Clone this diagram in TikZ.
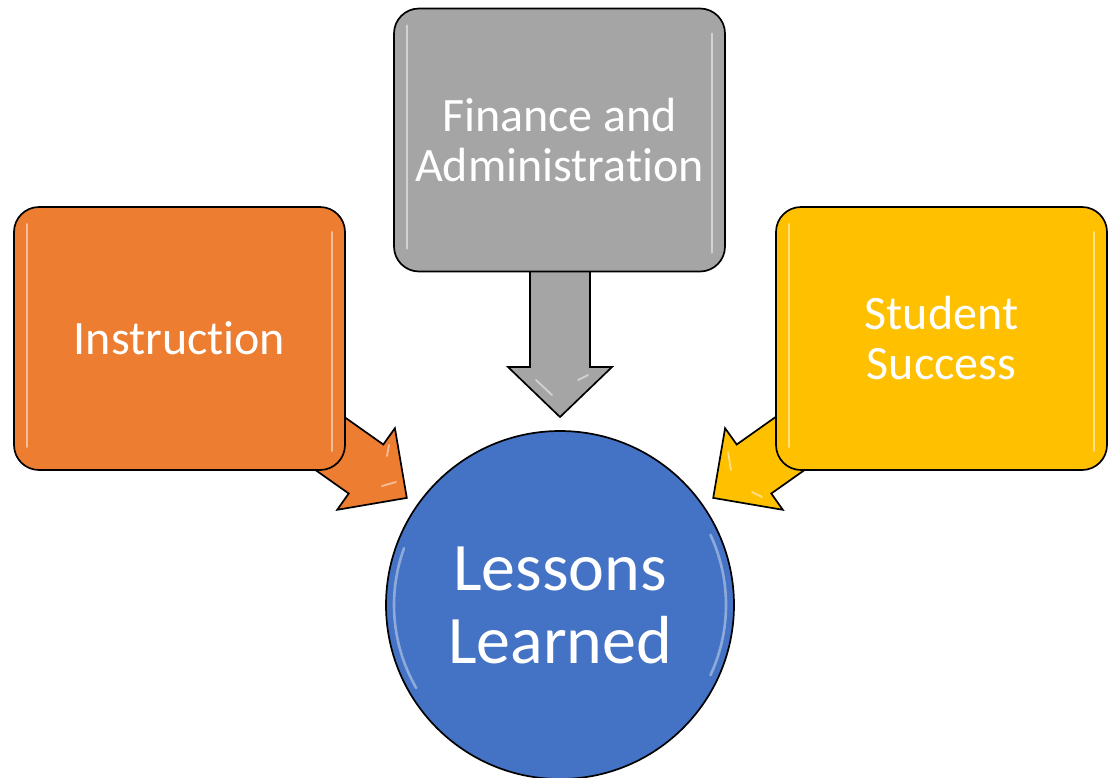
\documentclass[tikz,border=0pt]{standalone}
\usepackage{fontspec}
\setmainfont[RawFeature=-liga]{Carlito}
\definecolor{orng}{HTML}{ED7D31}
\definecolor{gry}{HTML}{A5A5A5}
\definecolor{ylw}{HTML}{FFC000}
\definecolor{blu}{HTML}{4472C4}
\begin{document}
\begin{tikzpicture}[x=1pt,y=-1pt,
  box/.style={draw=black, line width=1.7pt, rounded corners=25pt, minimum width=331pt, minimum height=263pt, inner sep=0pt, text=white, align=center, font=\fontsize{48}{50}\selectfont},
  hub/.style={circle, draw=black, line width=1.7pt, fill=blu, minimum size=348pt, inner sep=0pt, text=white, align=center, font=\fontsize{68}{73}\selectfont},
  blockarrow/.style={draw=black, line width=1.7pt, line join=miter},
  gloss/.style={white, opacity=0.5, line width=2.6pt, line cap=round}]
\useasboundingbox (0,0) rectangle (1116,777);
% anchor coordinates for the block arrows
\coordinate (t1) at (406.8,497.9);
\coordinate (t2) at (560,417);
\coordinate (t3) at (713.2,497.9);
% block arrows (drawn beneath the boxes)
\draw[blockarrow, fill=orng] (285.4,375.3) -- (383.3,444.5) -- (394.9,428.2) -- (t1) -- (337.2,509.8) -- (348.7,493.5) -- (250.8,424.3) -- cycle;
\draw[blockarrow, fill=ylw] (834.6,375.3) -- (736.7,444.5) -- (725.1,428.2) -- (t3) -- (782.8,509.8) -- (771.3,493.5) -- (869.2,424.3) -- cycle;
\draw[blockarrow, fill=gry] (530,250) -- (530,367) -- (508,367) -- (t2) -- (612,367) -- (590,367) -- (590,250) -- cycle;
% arrow glosses
\draw[gloss, line width=1.8pt] (382,486) -- (396,482);
\draw[gloss, line width=1.8pt] (387,456) -- (389,445);
\draw[gloss, line width=1.8pt] (728,452) -- (731,470);
\draw[gloss, line width=1.8pt] (752,492) -- (762,497);
\draw[gloss, line width=1.8pt] (536,380) -- (552,395);
\draw[gloss, line width=1.8pt] (578,380) -- (588,375);
% boxes
\node[box, fill=orng] (ins) at (179.5,338.5) {Instruction};
\node[box, fill=gry] (fin) at (559.5,140) {Finance and\\Administration};
\node[box, fill=ylw] (stu) at (941.5,338.5) {Student\\Success};
% box glosses
\foreach \n in {ins,fin,stu}{
  \draw[gloss] ([xshift=14pt,yshift=-18pt]\n.north west) -- ([xshift=14pt,yshift=24pt]\n.south west);
  \draw[gloss] ([xshift=-14pt,yshift=-26pt]\n.north east) -- ([xshift=-14pt,yshift=20pt]\n.south east);
}
% hub
\node[hub] (les) at (560,605) {Lessons\\Learned};
\draw[gloss, opacity=0.4] (les.center) ++(150:166) arc[start angle=150, end angle=200, radius=166];
\draw[gloss, opacity=0.4] (les.center) ++(-25:166) arc[start angle=-25, end angle=25, radius=166];
\end{tikzpicture}
\end{document}
